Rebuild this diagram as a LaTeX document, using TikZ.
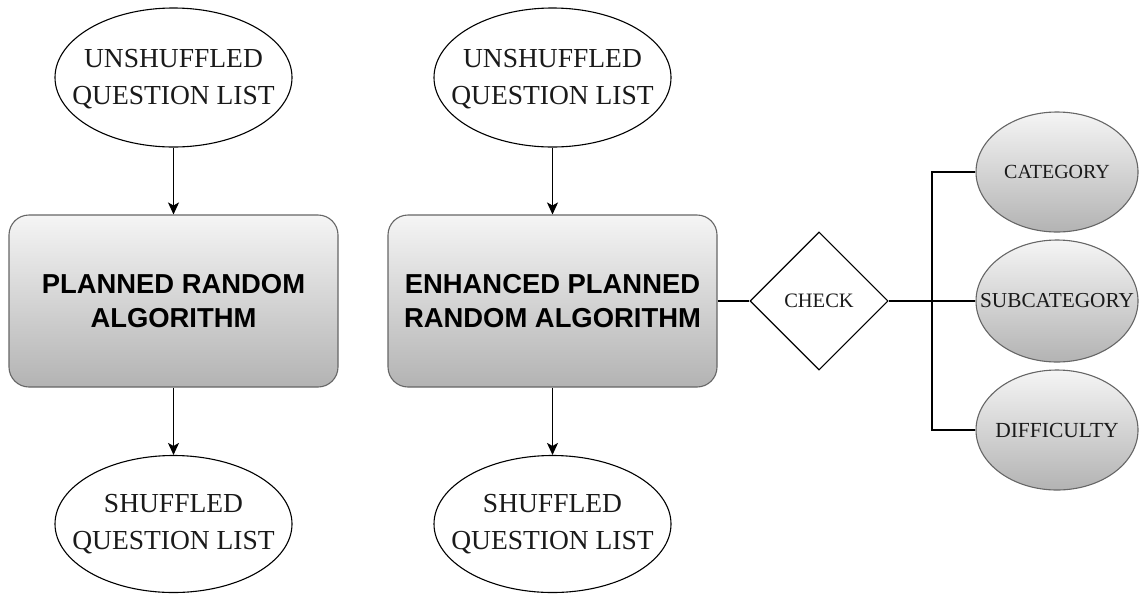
\documentclass[tikz,border=0pt]{standalone}
\usepackage{fontspec}
\setmainfont{Liberation Serif}
\newfontfamily\boldsans{Liberation Sans}
\usetikzlibrary{shapes.geometric,arrows.meta}
\definecolor{txt}{HTML}{1A1A1A}
\definecolor{strk}{HTML}{666666}
\definecolor{gtop}{HTML}{F5F5F5}
\definecolor{gbot}{HTML}{B3B3B3}
\tikzset{
  listnode/.style={ellipse, draw=black, line width=1.1pt, fill=white, inner sep=0pt,
    minimum width=237pt, minimum height=139pt},
  listtext/.style={align=center, text=txt, inner sep=0pt,
    font=\fontsize{27.5}{37}\selectfont},
  algbox/.style={rectangle, rounded corners=20pt, draw=strk, line width=1.1pt,
    top color=gtop, bottom color=gbot, minimum width=329pt, minimum height=172pt,
    inner sep=0pt, align=center, text=black,
    font=\boldsans\bfseries\fontsize{27.4}{34}\selectfont},
  checknode/.style={diamond, aspect=1, draw=black, line width=1.1pt, fill=white,
    minimum width=138pt, minimum height=138pt, inner sep=0pt, text=txt,
    font=\fontsize{20.5}{24}\selectfont},
  attrnode/.style={ellipse, draw=strk, line width=1.1pt, top color=gtop, bottom color=gbot,
    minimum width=162pt, minimum height=120pt, inner sep=0pt, text=txt,
    font=\fontsize{20}{24}\selectfont},
  conn/.style={draw=black, line width=1.3pt},
  arr/.style={conn, -{Stealth[length=12pt, width=11pt, inset=3pt]}}
}
\begin{document}
\begin{tikzpicture}[x=1pt, y=-1pt]
\useasboundingbox (0,0) rectangle (1139,595);
% left column
\node[listnode, label={[listtext, yshift=-2pt]center:{UNSHUFFLED\\QUESTION LIST}}] (u1) at (173.5,77.5) {};
\node[algbox] (a1) at (173.5,301) {PLANNED RANDOM\\ALGORITHM};
\node[listnode, minimum height=137pt, label={[listtext]center:{SHUFFLED\\QUESTION LIST}}] (s1) at (173.5,524) {};
% middle column
\node[listnode, label={[listtext, yshift=-2pt]center:{UNSHUFFLED\\QUESTION LIST}}] (u2) at (552.5,77.5) {};
\node[algbox] (a2) at (552.5,301) {ENHANCED PLANNED\\RANDOM ALGORITHM};
\node[listnode, minimum height=137pt, label={[listtext]center:{SHUFFLED\\QUESTION LIST}}] (s2) at (552.5,524) {};
% check
\node[checknode] (chk) at (819,301) {CHECK};
\coordinate (j) at (932,301);
\node[attrnode] (cat) at (1057,172) {CATEGORY};
\node[attrnode, minimum height=122pt, font=\fontsize{21.3}{24}\selectfont] (sub) at (1057,301) {\makebox[0pt][c]{SUBCATEGORY}};
\node[attrnode, font=\fontsize{21.5}{24}\selectfont] (dif) at (1057,430) {\makebox[0pt][c]{DIFFICULTY}};
% connectors
\draw[arr] (u1.south) -- (a1.north);
\draw[arr] (a1.south) -- (s1.north);
\draw[arr] (u2.south) -- (a2.north);
\draw[arr] (a2.south) -- (s2.north);
\draw[conn] (a2.east) -- (chk.west);
\draw[conn] (chk.east) -- (j);
\draw[conn] (j) |- (cat.west);
\draw[conn] (j) -- (sub.west);
\draw[conn] (j) |- (dif.west);
\end{tikzpicture}
\end{document}
